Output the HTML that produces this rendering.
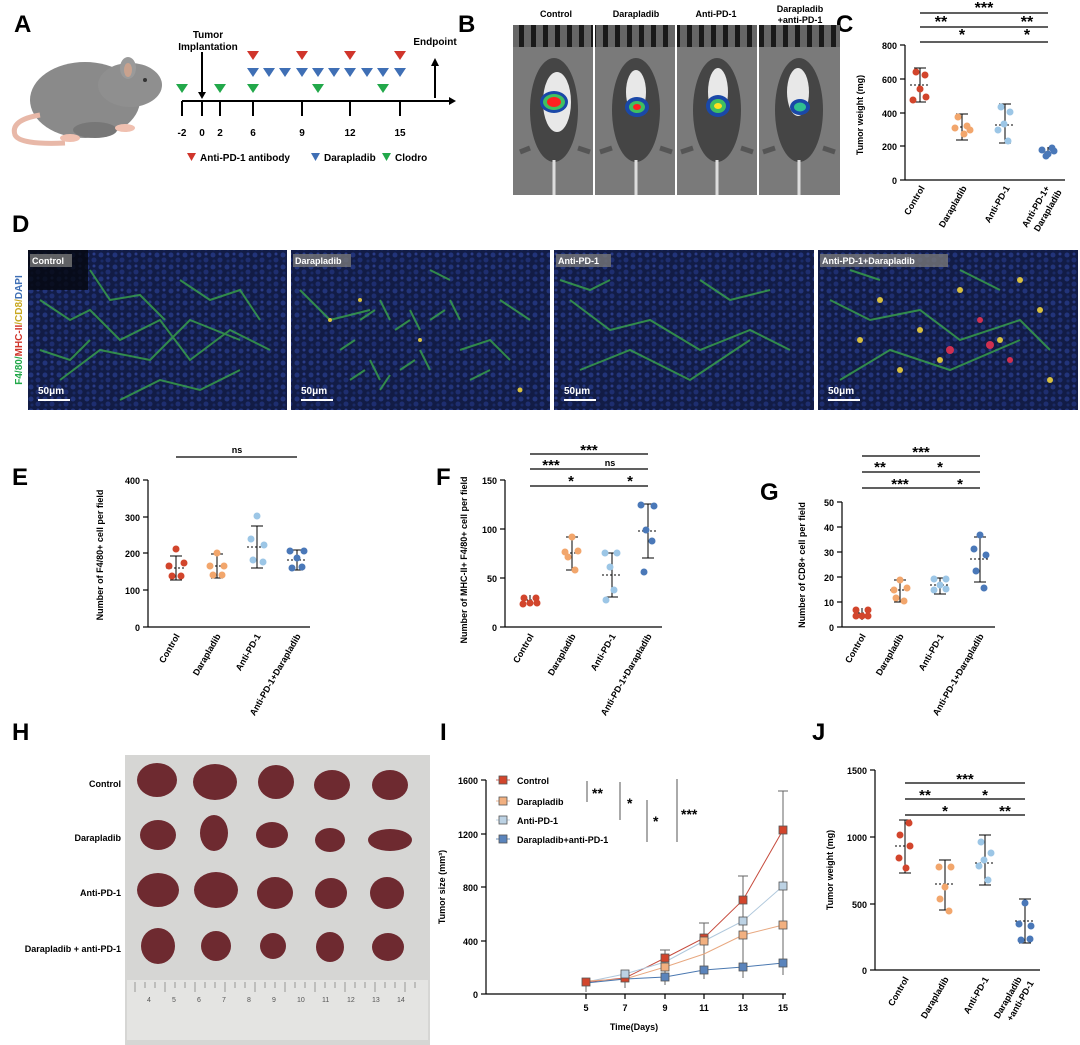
<!DOCTYPE html>
<html><head><meta charset="utf-8"><style>
body{margin:0;background:#fff;}
svg{display:block;font-family:"Liberation Sans",Arial,sans-serif;}
.L{font-size:24px;font-weight:bold;}
.t{font-size:10px;font-weight:bold;}
.s{font-size:9px;font-weight:bold;}
</style></head><body>
<svg width="1080" height="1045" viewBox="0 0 1080 1045" xmlns="http://www.w3.org/2000/svg">
<defs>
<pattern id="nuc" width="14" height="12" patternUnits="userSpaceOnUse">
<rect width="14" height="12" fill="#121c46"/>
<circle cx="3" cy="3" r="2.5" fill="#22347a"/><circle cx="10" cy="8" r="2.5" fill="#1e2e70"/><circle cx="10" cy="2" r="1.5" fill="#2a3c88"/><circle cx="4" cy="9" r="1.5" fill="#1a2a66"/>
</pattern>
<pattern id="tooth" width="12" height="22" patternUnits="userSpaceOnUse">
<rect width="12" height="22" fill="#666"/><rect x="3" width="5" height="22" fill="#1a1a1a"/>
</pattern>
</defs>
<!-- Panel labels -->
<text class="L" x="14" y="32">A</text>
<text class="L" x="458" y="32">B</text>
<text class="L" x="836" y="32">C</text>
<text class="L" x="12" y="232">D</text>
<text class="L" x="12" y="485">E</text>
<text class="L" x="436" y="485">F</text>
<text class="L" x="760" y="500">G</text>
<text class="L" x="12" y="740">H</text>
<text class="L" x="440" y="740">I</text>
<text class="L" x="812" y="740">J</text>

<!-- A: mouse -->
<g>
<ellipse cx="85" cy="100" rx="55" ry="38" fill="#8a8a8a"/>
<ellipse cx="130" cy="85" rx="32" ry="22" fill="#8f8f8f"/>
<ellipse cx="128" cy="68" rx="8" ry="11" fill="#9a9a9a"/>
<ellipse cx="128" cy="70" rx="4" ry="7" fill="#c9a28e"/>
<circle cx="145" cy="80" r="2" fill="#333"/>
<ellipse cx="95" cy="130" rx="22" ry="8" fill="#777"/>
<path d="M40 115 Q10 120 15 135 Q20 145 65 143" stroke="#e8b8a8" stroke-width="5" fill="none"/>
<ellipse cx="125" cy="128" rx="10" ry="4" fill="#f0c0b0"/>
<ellipse cx="70" cy="138" rx="10" ry="4" fill="#f0c0b0"/>
</g>
<!-- A: timeline -->
<line x1="182" y1="101" x2="453" y2="101" stroke="#000" stroke-width="2"/>
<path d="M449 97 L456 101 L449 105 Z" fill="#000"/>
<g stroke="#000" stroke-width="2">
<line x1="182" y1="101" x2="182" y2="116"/><line x1="202" y1="101" x2="202" y2="116"/><line x1="220" y1="101" x2="220" y2="116"/>
<line x1="253" y1="101" x2="253" y2="116"/><line x1="302" y1="101" x2="302" y2="116"/><line x1="350" y1="101" x2="350" y2="116"/><line x1="400" y1="101" x2="400" y2="116"/>
<line x1="202" y1="52" x2="202" y2="95"/><line x1="435" y1="98" x2="435" y2="64"/>
</g>
<path d="M198 92 L202 99 L206 92 Z M431 66 L435 58 L439 66 Z" fill="#000"/>
<g class="t" text-anchor="middle">
<text x="182" y="136">-2</text><text x="202" y="136">0</text><text x="220" y="136">2</text><text x="253" y="136">6</text><text x="302" y="136">9</text><text x="350" y="136">12</text><text x="400" y="136">15</text>
<text x="208" y="38">Tumor</text><text x="208" y="50">Implantation</text><text x="435" y="45">Endpoint</text>
</g>
<g fill="#d0352b">
<path d="M247 51h12l-6 9z M296 51h12l-6 9z M344 51h12l-6 9z M394 51h12l-6 9z"/>
</g>
<g fill="#3f6fb5">
<path d="M247 68h12l-6 9z M263 68h12l-6 9z M279 68h12l-6 9z M296 68h12l-6 9z M312 68h12l-6 9z M328 68h12l-6 9z M344 68h12l-6 9z M361 68h12l-6 9z M377 68h12l-6 9z M394 68h12l-6 9z"/>
</g>
<g fill="#22a84a">
<path d="M176 84h12l-6 9z M214 84h12l-6 9z M247 84h12l-6 9z M312 84h12l-6 9z M377 84h12l-6 9z"/>
</g>
<path d="M187 153h9l-4.5 8z" fill="#d0352b"/><text class="t" x="200" y="161">Anti-PD-1 antibody</text>
<path d="M311 153h9l-4.5 8z" fill="#3f6fb5"/><text class="t" x="324" y="161">Darapladib</text>
<path d="M382 153h9l-4.5 8z" fill="#22a84a"/><text class="t" x="395" y="161">Clodro</text>

<!-- B -->
<g class="s" text-anchor="middle">
<text x="556" y="17">Control</text><text x="636" y="17">Darapladib</text><text x="716" y="17">Anti-PD-1</text>
<text x="800" y="12">Darapladib</text><text x="800" y="23">+anti-PD-1</text>
</g>
<g>
<rect x="513" y="25" width="80" height="170" fill="#7a7a7a"/>
<rect x="595" y="25" width="80" height="170" fill="#7a7a7a"/>
<rect x="677" y="25" width="80" height="170" fill="#7a7a7a"/>
<rect x="759" y="25" width="81" height="170" fill="#7a7a7a"/>
<rect x="513" y="25" width="80" height="22" fill="url(#tooth)"/>
<rect x="595" y="25" width="80" height="22" fill="url(#tooth)"/>
<rect x="677" y="25" width="80" height="22" fill="url(#tooth)"/>
<rect x="759" y="25" width="81" height="22" fill="url(#tooth)"/>
</g>
<g fill="#454545">
<ellipse cx="554" cy="110" rx="24" ry="52"/><ellipse cx="636" cy="110" rx="24" ry="52"/><ellipse cx="717" cy="110" rx="24" ry="52"/><ellipse cx="799" cy="110" rx="24" ry="52"/>
</g>
<g stroke="#555" stroke-width="5"><line x1="530" y1="148" x2="520" y2="152"/><line x1="578" y1="148" x2="590" y2="152"/><line x1="612" y1="148" x2="600" y2="152"/><line x1="660" y1="148" x2="672" y2="152"/><line x1="693" y1="148" x2="681" y2="152"/><line x1="741" y1="148" x2="753" y2="152"/><line x1="775" y1="148" x2="763" y2="152"/><line x1="823" y1="148" x2="835" y2="152"/></g>
<g fill="#e8e8e8"><ellipse cx="557" cy="102" rx="14" ry="30"/><ellipse cx="636" cy="92" rx="10" ry="22"/><ellipse cx="718" cy="92" rx="10" ry="24"/><ellipse cx="798" cy="92" rx="11" ry="24"/></g>
<g stroke="#ddd" stroke-width="3"><line x1="554" y1="160" x2="554" y2="195"/><line x1="636" y1="160" x2="636" y2="195"/><line x1="717" y1="160" x2="717" y2="195"/><line x1="799" y1="160" x2="799" y2="195"/></g>
<g>
<ellipse cx="554" cy="102" rx="14" ry="11" fill="#1a48a8"/><ellipse cx="554" cy="102" rx="11" ry="8" fill="#40c060"/><ellipse cx="554" cy="102" rx="7" ry="5" fill="#ff2020"/>
<ellipse cx="637" cy="107" rx="12" ry="10" fill="#1a48a8"/><ellipse cx="637" cy="107" rx="8" ry="6" fill="#40c060"/><ellipse cx="637" cy="107" rx="4" ry="3" fill="#ff2020"/>
<ellipse cx="718" cy="106" rx="12" ry="11" fill="#1a48a8"/><ellipse cx="718" cy="106" rx="8" ry="7" fill="#40c060"/><ellipse cx="718" cy="106" rx="4" ry="3" fill="#ffe020"/>
<ellipse cx="800" cy="107" rx="10" ry="8" fill="#1a48a8"/><ellipse cx="800" cy="107" rx="6" ry="4.5" fill="#30c090"/>
</g>

<!-- C -->
<g stroke="#000" stroke-width="1.2" fill="none">
<line x1="905" y1="45" x2="905" y2="180"/><line x1="905" y1="180" x2="1065" y2="180"/>
<line x1="900" y1="45" x2="905" y2="45"/><line x1="900" y1="79" x2="905" y2="79"/><line x1="900" y1="113" x2="905" y2="113"/><line x1="900" y1="146" x2="905" y2="146"/><line x1="900" y1="180" x2="905" y2="180"/>
<line x1="920" y1="13" x2="1048" y2="13"/><line x1="920" y1="27" x2="1005" y2="27"/><line x1="1005" y1="27" x2="1048" y2="27"/><line x1="920" y1="42" x2="1005" y2="42"/><line x1="1005" y1="42" x2="1048" y2="42"/>
</g>
<g class="s" text-anchor="end"><text x="897" y="49">800</text><text x="897" y="83">600</text><text x="897" y="117">400</text><text x="897" y="150">200</text><text x="897" y="184">0</text></g>
<text class="s" transform="translate(863,115) rotate(-90)" text-anchor="middle">Tumor weight (mg)</text>
<g class="L" style="font-size:16px" text-anchor="middle"><text x="984" y="13">***</text><text x="941" y="27">**</text><text x="1027" y="27">**</text><text x="962" y="40">*</text><text x="1027" y="40">*</text></g>
<g class="s" text-anchor="end">
<text transform="translate(925,188) rotate(-60)">Control</text><text transform="translate(967,188) rotate(-60)">Darapladib</text><text transform="translate(1010,188) rotate(-60)">Anti-PD-1</text>
<text transform="translate(1050,188) rotate(-60)">Anti-PD-1+</text><text transform="translate(1062,192) rotate(-60)">Darapladib</text>
</g>
<g stroke="#000" stroke-width="1">
<line x1="920" y1="68" x2="920" y2="102"/><line x1="914" y1="68" x2="926" y2="68"/><line x1="914" y1="102" x2="926" y2="102"/><line x1="910" y1="85" x2="930" y2="85" stroke-dasharray="2,2"/>
<line x1="962" y1="114" x2="962" y2="140"/><line x1="956" y1="114" x2="968" y2="114"/><line x1="956" y1="140" x2="968" y2="140"/><line x1="952" y1="127" x2="972" y2="127" stroke-dasharray="2,2"/>
<line x1="1005" y1="104" x2="1005" y2="143"/><line x1="999" y1="104" x2="1011" y2="104"/><line x1="999" y1="143" x2="1011" y2="143"/><line x1="995" y1="125" x2="1015" y2="125" stroke-dasharray="2,2"/>
<line x1="1048" y1="147" x2="1048" y2="155"/><line x1="1040" y1="152" x2="1056" y2="152" stroke-dasharray="2,2"/>
</g>
<g fill="#d2452c"><circle cx="916" cy="72" r="3.5"/><circle cx="925" cy="75" r="3.5"/><circle cx="920" cy="89" r="3.5"/><circle cx="913" cy="100" r="3.5"/><circle cx="926" cy="97" r="3.5"/></g>
<g fill="#f2a66c"><circle cx="958" cy="117" r="3.5"/><circle cx="967" cy="126" r="3.5"/><circle cx="955" cy="128" r="3.5"/><circle cx="964" cy="134" r="3.5"/><circle cx="970" cy="130" r="3.5"/></g>
<g fill="#9cc6e6"><circle cx="1001" cy="107" r="3.5"/><circle cx="1010" cy="112" r="3.5"/><circle cx="1004" cy="124" r="3.5"/><circle cx="998" cy="130" r="3.5"/><circle cx="1008" cy="141" r="3.5"/></g>
<g fill="#4a78b8"><circle cx="1042" cy="150" r="3.5"/><circle cx="1048" cy="154" r="3.5"/><circle cx="1054" cy="151" r="3.5"/><circle cx="1046" cy="156" r="3.5"/><circle cx="1052" cy="148" r="3.5"/></g>

<!-- D -->
<g>
<rect x="28" y="250" width="259" height="160" fill="url(#nuc)"/>
<rect x="291" y="250" width="259" height="160" fill="url(#nuc)"/>
<rect x="554" y="250" width="260" height="160" fill="url(#nuc)"/>
<rect x="818" y="250" width="260" height="160" fill="url(#nuc)"/>
<rect x="28" y="250" width="60" height="40" fill="#05070f" opacity="0.8"/>
<g stroke="#3cae4a" stroke-width="2" fill="none" opacity="0.75">
<path d="M40 300 l30 20 l20 -10 l30 30 l40 -20 l30 40 l40 -30 l40 20 M60 380 l40 -30 l50 10 l40 -40 l50 20 M90 270 l20 30 l30 -5 l25 25 M180 280 l30 20 l30 -10 l20 30 M40 350 l30 10 l20 -20 M120 400 l40 -20 l40 10 l40 -20"/>
<path d="M360 320 l15 -10 M380 300 l10 20 M395 330 l15 -10 M410 310 l10 20 M340 350 l15 -10 M370 360 l10 20 M400 370 l15 -10 M420 350 l10 20 M350 380 l15 -10 M380 390 l10 -15 M430 320 l15 -10 M450 300 l10 20 M300 290 l30 30 l40 -10 M460 350 l30 -10 l20 20 M500 300 l30 20 M430 270 l20 10 M470 380 l20 -10"/>
<path d="M570 300 l40 30 l40 -10 l50 30 l50 -20 l40 20 M580 370 l50 -20 l60 30 l60 -40 M560 280 l30 10 l20 -10 M700 280 l30 20 l40 -10"/>
<path d="M830 300 l40 20 l50 -10 l40 30 l60 -20 l30 30 M840 380 l50 -30 l60 20 l70 -30 M850 270 l30 10 M960 270 l40 20"/>
</g>
<g fill="#d8c040"><circle cx="880" cy="300" r="3"/><circle cx="920" cy="330" r="3"/><circle cx="960" cy="290" r="3"/><circle cx="1000" cy="340" r="3"/><circle cx="1040" cy="310" r="3"/><circle cx="900" cy="370" r="3"/><circle cx="1050" cy="380" r="3"/><circle cx="860" cy="340" r="3"/><circle cx="940" cy="360" r="3"/><circle cx="1020" cy="280" r="3"/><circle cx="360" cy="300" r="2"/><circle cx="420" cy="340" r="2"/><circle cx="330" cy="320" r="2"/><circle cx="520" cy="390" r="2.5"/></g>
<g fill="#d03050"><circle cx="950" cy="350" r="4"/><circle cx="980" cy="320" r="3"/><circle cx="1010" cy="360" r="3"/><circle cx="990" cy="345" r="4"/></g>
<rect x="30" y="254" width="42" height="13" fill="#777" opacity="0.8"/><text class="s" x="32" y="264" fill="#fff">Control</text>
<rect x="293" y="254" width="58" height="13" fill="#777" opacity="0.8"/><text class="s" x="295" y="264" fill="#fff">Darapladib</text>
<rect x="556" y="254" width="55" height="13" fill="#777" opacity="0.8"/><text class="s" x="558" y="264" fill="#fff">Anti-PD-1</text>
<rect x="820" y="254" width="128" height="13" fill="#777" opacity="0.8"/><text class="s" x="822" y="264" fill="#fff">Anti-PD-1+Darapladib</text>
<g fill="#fff" class="t"><text x="38" y="394">50μm</text><text x="301" y="394">50μm</text><text x="564" y="394">50μm</text><text x="828" y="394">50μm</text></g>
<g stroke="#fff" stroke-width="2"><line x1="38" y1="400" x2="70" y2="400"/><line x1="301" y1="400" x2="333" y2="400"/><line x1="564" y1="400" x2="596" y2="400"/><line x1="828" y1="400" x2="860" y2="400"/></g>
<text class="t" transform="translate(22,330) rotate(-90)" text-anchor="middle"><tspan fill="#22a84a">F4/80/</tspan><tspan fill="#d0352b">MHC-II</tspan><tspan fill="#c8a820">/CD8/</tspan><tspan fill="#3f6fb5">DAPI</tspan></text>
</g>

<!-- E -->
<g stroke="#000" stroke-width="1.2" fill="none">
<line x1="148" y1="480" x2="148" y2="627"/><line x1="148" y1="627" x2="310" y2="627"/>
<line x1="143" y1="480" x2="148" y2="480"/><line x1="143" y1="517" x2="148" y2="517"/><line x1="143" y1="553" x2="148" y2="553"/><line x1="143" y1="590" x2="148" y2="590"/><line x1="143" y1="627" x2="148" y2="627"/>
<line x1="176" y1="457" x2="297" y2="457"/>
</g>
<text class="s" x="237" y="453" text-anchor="middle">ns</text>
<g class="s" text-anchor="end"><text x="140" y="484">400</text><text x="140" y="521">300</text><text x="140" y="557">200</text><text x="140" y="594">100</text><text x="140" y="631">0</text></g>
<text class="s" transform="translate(103,555) rotate(-90)" text-anchor="middle">Number of F4/80+ cell per field</text>
<g class="s" text-anchor="end"><text transform="translate(180,636) rotate(-60)">Control</text><text transform="translate(221,636) rotate(-60)">Darapladib</text><text transform="translate(261,636) rotate(-60)">Anti-PD-1</text><text transform="translate(301,636) rotate(-60)">Anti-PD-1+Darapladib</text></g>
<g stroke="#000" stroke-width="1">
<line x1="176" y1="556" x2="176" y2="580"/><line x1="170" y1="556" x2="182" y2="556"/><line x1="170" y1="580" x2="182" y2="580"/><line x1="166" y1="568" x2="186" y2="568" stroke-dasharray="2,2"/>
<line x1="217" y1="554" x2="217" y2="578"/><line x1="211" y1="554" x2="223" y2="554"/><line x1="211" y1="578" x2="223" y2="578"/><line x1="207" y1="566" x2="227" y2="566" stroke-dasharray="2,2"/>
<line x1="257" y1="526" x2="257" y2="568"/><line x1="251" y1="526" x2="263" y2="526"/><line x1="251" y1="568" x2="263" y2="568"/><line x1="247" y1="547" x2="267" y2="547" stroke-dasharray="2,2"/>
<line x1="297" y1="550" x2="297" y2="570"/><line x1="291" y1="550" x2="303" y2="550"/><line x1="291" y1="570" x2="303" y2="570"/><line x1="287" y1="560" x2="307" y2="560" stroke-dasharray="2,2"/>
</g>
<g fill="#d2452c"><circle cx="176" cy="549" r="3.5"/><circle cx="169" cy="566" r="3.5"/><circle cx="184" cy="563" r="3.5"/><circle cx="172" cy="576" r="3.5"/><circle cx="181" cy="576" r="3.5"/></g>
<g fill="#f2a66c"><circle cx="217" cy="553" r="3.5"/><circle cx="210" cy="566" r="3.5"/><circle cx="224" cy="566" r="3.5"/><circle cx="213" cy="575" r="3.5"/><circle cx="222" cy="575" r="3.5"/></g>
<g fill="#9cc6e6"><circle cx="257" cy="516" r="3.5"/><circle cx="251" cy="539" r="3.5"/><circle cx="264" cy="545" r="3.5"/><circle cx="253" cy="560" r="3.5"/><circle cx="263" cy="562" r="3.5"/></g>
<g fill="#4a78b8"><circle cx="290" cy="551" r="3.5"/><circle cx="304" cy="551" r="3.5"/><circle cx="297" cy="558" r="3.5"/><circle cx="292" cy="568" r="3.5"/><circle cx="302" cy="567" r="3.5"/></g>

<!-- F -->
<g stroke="#000" stroke-width="1.2" fill="none">
<line x1="505" y1="480" x2="505" y2="627"/><line x1="505" y1="627" x2="662" y2="627"/>
<line x1="500" y1="480" x2="505" y2="480"/><line x1="500" y1="529" x2="505" y2="529"/><line x1="500" y1="578" x2="505" y2="578"/><line x1="500" y1="627" x2="505" y2="627"/>
<line x1="530" y1="454" x2="648" y2="454"/><line x1="530" y1="469" x2="572" y2="469"/><line x1="572" y1="469" x2="648" y2="469"/><line x1="530" y1="486" x2="612" y2="486"/><line x1="612" y1="486" x2="648" y2="486"/>
</g>
<g class="L" style="font-size:15px" text-anchor="middle"><text x="589" y="455">***</text><text x="551" y="470">***</text><text x="571" y="486">*</text><text x="630" y="486">*</text></g>
<text class="s" x="610" y="466" text-anchor="middle">ns</text>
<g class="s" text-anchor="end"><text x="497" y="484">150</text><text x="497" y="533">100</text><text x="497" y="582">50</text><text x="497" y="631">0</text></g>
<text class="s" transform="translate(467,560) rotate(-90)" text-anchor="middle">Number of MHC-II+ F4/80+ cell per field</text>
<g class="s" text-anchor="end"><text transform="translate(534,636) rotate(-60)">Control</text><text transform="translate(576,636) rotate(-60)">Darapladib</text><text transform="translate(616,636) rotate(-60)">Anti-PD-1</text><text transform="translate(652,636) rotate(-60)">Anti-PD-1+Darapladib</text></g>
<g stroke="#000" stroke-width="1">
<line x1="530" y1="595" x2="530" y2="605"/><line x1="522" y1="600" x2="538" y2="600" stroke-dasharray="2,2"/>
<line x1="572" y1="537" x2="572" y2="570"/><line x1="566" y1="537" x2="578" y2="537"/><line x1="566" y1="570" x2="578" y2="570"/><line x1="562" y1="553" x2="582" y2="553" stroke-dasharray="2,2"/>
<line x1="612" y1="553" x2="612" y2="597"/><line x1="606" y1="553" x2="618" y2="553"/><line x1="606" y1="597" x2="618" y2="597"/><line x1="602" y1="575" x2="622" y2="575" stroke-dasharray="2,2"/>
<line x1="648" y1="504" x2="648" y2="558"/><line x1="642" y1="504" x2="654" y2="504"/><line x1="642" y1="558" x2="654" y2="558"/><line x1="638" y1="531" x2="658" y2="531" stroke-dasharray="2,2"/>
</g>
<g fill="#d2452c"><circle cx="524" cy="598" r="3.5"/><circle cx="536" cy="598" r="3.5"/><circle cx="530" cy="603" r="3.5"/><circle cx="523" cy="604" r="3.5"/><circle cx="537" cy="603" r="3.5"/></g>
<g fill="#f2a66c"><circle cx="572" cy="537" r="3.5"/><circle cx="565" cy="552" r="3.5"/><circle cx="578" cy="551" r="3.5"/><circle cx="568" cy="557" r="3.5"/><circle cx="575" cy="570" r="3.5"/></g>
<g fill="#9cc6e6"><circle cx="605" cy="553" r="3.5"/><circle cx="617" cy="553" r="3.5"/><circle cx="610" cy="567" r="3.5"/><circle cx="614" cy="590" r="3.5"/><circle cx="606" cy="600" r="3.5"/></g>
<g fill="#4a78b8"><circle cx="641" cy="505" r="3.5"/><circle cx="654" cy="506" r="3.5"/><circle cx="646" cy="530" r="3.5"/><circle cx="652" cy="541" r="3.5"/><circle cx="644" cy="572" r="3.5"/></g>

<!-- G -->
<g stroke="#000" stroke-width="1.2" fill="none">
<line x1="842" y1="502" x2="842" y2="627"/><line x1="842" y1="627" x2="995" y2="627"/>
<line x1="837" y1="502" x2="842" y2="502"/><line x1="837" y1="527" x2="842" y2="527"/><line x1="837" y1="552" x2="842" y2="552"/><line x1="837" y1="577" x2="842" y2="577"/><line x1="837" y1="602" x2="842" y2="602"/><line x1="837" y1="627" x2="842" y2="627"/>
<line x1="862" y1="456" x2="980" y2="456"/><line x1="862" y1="472" x2="900" y2="472"/><line x1="900" y1="472" x2="980" y2="472"/><line x1="862" y1="488" x2="940" y2="488"/><line x1="940" y1="488" x2="980" y2="488"/>
</g>
<g class="L" style="font-size:15px" text-anchor="middle"><text x="921" y="457">***</text><text x="880" y="472">**</text><text x="940" y="472">*</text><text x="900" y="489">***</text><text x="960" y="489">*</text></g>
<g class="s" text-anchor="end"><text x="834" y="506">50</text><text x="834" y="531">40</text><text x="834" y="556">30</text><text x="834" y="581">20</text><text x="834" y="606">10</text><text x="834" y="631">0</text></g>
<text class="s" transform="translate(805,565) rotate(-90)" text-anchor="middle">Number of CD8+ cell per field</text>
<g class="s" text-anchor="end"><text transform="translate(866,636) rotate(-60)">Control</text><text transform="translate(904,636) rotate(-60)">Darapladib</text><text transform="translate(944,636) rotate(-60)">Anti-PD-1</text><text transform="translate(984,636) rotate(-60)">Anti-PD-1+Darapladib</text></g>
<g stroke="#000" stroke-width="1">
<line x1="862" y1="608" x2="862" y2="620"/><line x1="854" y1="613" x2="870" y2="613" stroke-dasharray="2,2"/>
<line x1="900" y1="580" x2="900" y2="602"/><line x1="894" y1="580" x2="906" y2="580"/><line x1="894" y1="602" x2="906" y2="602"/><line x1="890" y1="590" x2="910" y2="590" stroke-dasharray="2,2"/>
<line x1="940" y1="578" x2="940" y2="594"/><line x1="934" y1="578" x2="946" y2="578"/><line x1="934" y1="594" x2="946" y2="594"/><line x1="930" y1="585" x2="950" y2="585" stroke-dasharray="2,2"/>
<line x1="980" y1="537" x2="980" y2="582"/><line x1="974" y1="537" x2="986" y2="537"/><line x1="974" y1="582" x2="986" y2="582"/><line x1="970" y1="559" x2="990" y2="559" stroke-dasharray="2,2"/>
</g>
<g fill="#d2452c"><circle cx="856" cy="610" r="3.5"/><circle cx="868" cy="610" r="3.5"/><circle cx="862" cy="616" r="3.5"/><circle cx="856" cy="616" r="3.5"/><circle cx="868" cy="616" r="3.5"/></g>
<g fill="#f2a66c"><circle cx="900" cy="580" r="3.5"/><circle cx="894" cy="590" r="3.5"/><circle cx="907" cy="588" r="3.5"/><circle cx="896" cy="598" r="3.5"/><circle cx="904" cy="601" r="3.5"/></g>
<g fill="#9cc6e6"><circle cx="934" cy="579" r="3.5"/><circle cx="946" cy="579" r="3.5"/><circle cx="940" cy="585" r="3.5"/><circle cx="934" cy="590" r="3.5"/><circle cx="946" cy="589" r="3.5"/></g>
<g fill="#4a78b8"><circle cx="980" cy="535" r="3.5"/><circle cx="974" cy="549" r="3.5"/><circle cx="986" cy="555" r="3.5"/><circle cx="976" cy="571" r="3.5"/><circle cx="984" cy="588" r="3.5"/></g>

<!-- H -->
<rect x="125" y="755" width="305" height="290" fill="#d6d6d4"/>
<rect x="127" y="980" width="301" height="60" fill="#e4e4e2"/>
<g stroke="#777" stroke-width="0.7">
<path d="M135 982v10M145 982v6M155 982v6M165 982v10M175 982v6M185 982v6M195 982v10M205 982v6M215 982v6M225 982v10M235 982v6M245 982v6M255 982v10M265 982v6M275 982v6M285 982v10M295 982v6M305 982v6M315 982v10M325 982v6M335 982v6M345 982v10M355 982v6M365 982v6M375 982v10M385 982v6M395 982v6M405 982v10M415 982v6"/>
</g>
<g font-size="7" fill="#555"><text x="147" y="1002">4</text><text x="172" y="1002">5</text><text x="197" y="1002">6</text><text x="222" y="1002">7</text><text x="247" y="1002">8</text><text x="272" y="1002">9</text><text x="297" y="1002">10</text><text x="322" y="1002">11</text><text x="347" y="1002">12</text><text x="372" y="1002">13</text><text x="397" y="1002">14</text></g>
<g fill="#6e2a30">
<ellipse cx="157" cy="780" rx="20" ry="17"/><ellipse cx="215" cy="782" rx="22" ry="18"/><ellipse cx="276" cy="782" rx="18" ry="17"/><ellipse cx="332" cy="785" rx="18" ry="15"/><ellipse cx="390" cy="785" rx="18" ry="15"/>
<ellipse cx="158" cy="835" rx="18" ry="15"/><ellipse cx="214" cy="833" rx="14" ry="18"/><ellipse cx="272" cy="835" rx="16" ry="13"/><ellipse cx="330" cy="840" rx="15" ry="12"/><ellipse cx="390" cy="840" rx="22" ry="11"/>
<ellipse cx="158" cy="890" rx="21" ry="17"/><ellipse cx="216" cy="890" rx="22" ry="18"/><ellipse cx="275" cy="893" rx="18" ry="16"/><ellipse cx="331" cy="893" rx="16" ry="15"/><ellipse cx="387" cy="893" rx="17" ry="16"/>
<ellipse cx="158" cy="946" rx="17" ry="18"/><ellipse cx="216" cy="946" rx="15" ry="15"/><ellipse cx="273" cy="946" rx="13" ry="13"/><ellipse cx="330" cy="947" rx="14" ry="15"/><ellipse cx="388" cy="947" rx="16" ry="14"/>
</g>
<g class="s" text-anchor="end"><text x="121" y="787">Control</text><text x="121" y="841">Darapladib</text><text x="121" y="896">Anti-PD-1</text><text x="121" y="952">Darapladib + anti-PD-1</text></g>

<!-- I -->
<g stroke="#000" stroke-width="1.2" fill="none">
<line x1="486" y1="780" x2="486" y2="994"/><line x1="486" y1="994" x2="786" y2="994"/>
<line x1="481" y1="780" x2="486" y2="780"/><line x1="481" y1="834" x2="486" y2="834"/><line x1="481" y1="887" x2="486" y2="887"/><line x1="481" y1="941" x2="486" y2="941"/><line x1="481" y1="994" x2="486" y2="994"/>
<line x1="586" y1="994" x2="586" y2="999"/><line x1="625" y1="994" x2="625" y2="999"/><line x1="665" y1="994" x2="665" y2="999"/><line x1="704" y1="994" x2="704" y2="999"/><line x1="743" y1="994" x2="743" y2="999"/><line x1="783" y1="994" x2="783" y2="999"/>
</g>
<g stroke="#555" stroke-width="1"><line x1="587" y1="781" x2="587" y2="802"/><line x1="620" y1="782" x2="620" y2="820"/><line x1="647" y1="800" x2="647" y2="842"/><line x1="677" y1="779" x2="677" y2="842"/></g>
<g class="L" style="font-size:14px"><text x="592" y="798">**</text><text x="627" y="808">*</text><text x="653" y="826">*</text><text x="681" y="819">***</text></g>
<g class="s" text-anchor="end"><text x="478" y="784">1600</text><text x="478" y="838">1200</text><text x="478" y="891">800</text><text x="478" y="945">400</text><text x="478" y="998">0</text></g>
<g class="s" text-anchor="middle"><text x="586" y="1011">5</text><text x="625" y="1011">7</text><text x="665" y="1011">9</text><text x="704" y="1011">11</text><text x="743" y="1011">13</text><text x="783" y="1011">15</text><text x="634" y="1030">Time(Days)</text></g>
<text class="s" transform="translate(445,887) rotate(-90)" text-anchor="middle">Tumor size (mm³)</text>
<g stroke="#666" stroke-width="1">
<line x1="783" y1="791" x2="783" y2="975"/><line x1="743" y1="876" x2="743" y2="978"/><line x1="704" y1="923" x2="704" y2="979"/><line x1="665" y1="950" x2="665" y2="985"/><line x1="625" y1="970" x2="625" y2="988"/><line x1="586" y1="978" x2="586" y2="992"/>
<line x1="778" y1="791" x2="788" y2="791"/><line x1="738" y1="876" x2="748" y2="876"/><line x1="699" y1="923" x2="709" y2="923"/><line x1="660" y1="950" x2="670" y2="950"/>
</g>
<polyline points="586,982 625,978 665,958 704,938 743,900 783,830" fill="none" stroke="#c64a3c" stroke-width="1"/>
<polyline points="586,982 625,974 665,962 704,941 743,921 783,886" fill="none" stroke="#b0c8dc" stroke-width="1"/>
<polyline points="586,981 625,979 665,967 704,954 743,935 783,925" fill="none" stroke="#e8a880" stroke-width="1"/>
<polyline points="586,983 625,979 665,977 704,970 743,967 783,963" fill="none" stroke="#4a78b0" stroke-width="1"/>
<g stroke="#555" stroke-width="0.8">
<g fill="#d2452c"><rect x="582" y="978" width="8" height="8"/><rect x="621" y="974" width="8" height="8"/><rect x="661" y="954" width="8" height="8"/><rect x="700" y="934" width="8" height="8"/><rect x="739" y="896" width="8" height="8"/><rect x="779" y="826" width="8" height="8"/></g>
<g fill="#bcd2e4"><rect x="621" y="970" width="8" height="8"/><rect x="739" y="917" width="8" height="8"/><rect x="779" y="882" width="8" height="8"/></g>
<g fill="#f2b080"><rect x="661" y="963" width="8" height="8"/><rect x="700" y="937" width="8" height="8"/><rect x="739" y="931" width="8" height="8"/><rect x="779" y="921" width="8" height="8"/></g>
<g fill="#5a84bc"><rect x="661" y="973" width="8" height="8"/><rect x="700" y="966" width="8" height="8"/><rect x="739" y="963" width="8" height="8"/><rect x="779" y="959" width="8" height="8"/></g>
</g>
<g stroke-width="0.8" stroke="#555">
<line x1="496" y1="780" x2="510" y2="780" stroke="#c64a3c"/><rect x="499" y="776" width="8" height="8" fill="#d2452c"/>
<line x1="496" y1="801" x2="510" y2="801" stroke="#e8a880"/><rect x="499" y="797" width="8" height="8" fill="#f2b080"/>
<line x1="496" y1="820" x2="510" y2="820" stroke="#b0c8dc"/><rect x="499" y="816" width="8" height="8" fill="#bcd2e4"/>
<line x1="496" y1="839" x2="510" y2="839" stroke="#4a78b0"/><rect x="499" y="835" width="8" height="8" fill="#5a84bc"/>
</g>
<g class="s"><text x="517" y="784">Control</text><text x="517" y="805">Darapladib</text><text x="517" y="824">Anti-PD-1</text><text x="517" y="843">Darapladib+anti-PD-1</text></g>

<!-- J -->
<g stroke="#000" stroke-width="1.2" fill="none">
<line x1="875" y1="770" x2="875" y2="970"/><line x1="875" y1="970" x2="1040" y2="970"/>
<line x1="870" y1="770" x2="875" y2="770"/><line x1="870" y1="837" x2="875" y2="837"/><line x1="870" y1="904" x2="875" y2="904"/><line x1="870" y1="970" x2="875" y2="970"/>
<line x1="905" y1="783" x2="1025" y2="783"/><line x1="905" y1="799" x2="945" y2="799"/><line x1="945" y1="799" x2="1025" y2="799"/><line x1="905" y1="815" x2="985" y2="815"/><line x1="985" y1="815" x2="1025" y2="815"/>
</g>
<g class="L" style="font-size:15px" text-anchor="middle"><text x="965" y="784">***</text><text x="925" y="800">**</text><text x="985" y="800">*</text><text x="945" y="816">*</text><text x="1005" y="816">**</text></g>
<g class="s" text-anchor="end"><text x="867" y="774">1500</text><text x="867" y="841">1000</text><text x="867" y="908">500</text><text x="867" y="974">0</text></g>
<text class="s" transform="translate(833,870) rotate(-90)" text-anchor="middle">Tumor weight (mg)</text>
<g class="s" text-anchor="end"><text transform="translate(909,979) rotate(-60)">Control</text><text transform="translate(949,979) rotate(-60)">Darapladib</text><text transform="translate(989,979) rotate(-60)">Anti-PD-1</text><text transform="translate(1022,979) rotate(-60)">Darapladib</text><text transform="translate(1034,983) rotate(-60)">+anti-PD-1</text></g>
<g stroke="#000" stroke-width="1">
<line x1="905" y1="820" x2="905" y2="873"/><line x1="899" y1="820" x2="911" y2="820"/><line x1="899" y1="873" x2="911" y2="873"/><line x1="895" y1="846" x2="915" y2="846" stroke-dasharray="2,2"/>
<line x1="945" y1="860" x2="945" y2="910"/><line x1="939" y1="860" x2="951" y2="860"/><line x1="939" y1="910" x2="951" y2="910"/><line x1="935" y1="884" x2="955" y2="884" stroke-dasharray="2,2"/>
<line x1="985" y1="835" x2="985" y2="885"/><line x1="979" y1="835" x2="991" y2="835"/><line x1="979" y1="885" x2="991" y2="885"/><line x1="975" y1="863" x2="995" y2="863" stroke-dasharray="2,2"/>
<line x1="1025" y1="899" x2="1025" y2="943"/><line x1="1019" y1="899" x2="1031" y2="899"/><line x1="1019" y1="943" x2="1031" y2="943"/><line x1="1015" y1="921" x2="1035" y2="921" stroke-dasharray="2,2"/>
</g>
<g fill="#d2452c"><circle cx="909" cy="823" r="3.5"/><circle cx="900" cy="835" r="3.5"/><circle cx="910" cy="846" r="3.5"/><circle cx="899" cy="858" r="3.5"/><circle cx="906" cy="868" r="3.5"/></g>
<g fill="#f2a66c"><circle cx="939" cy="867" r="3.5"/><circle cx="951" cy="867" r="3.5"/><circle cx="945" cy="887" r="3.5"/><circle cx="940" cy="899" r="3.5"/><circle cx="949" cy="911" r="3.5"/></g>
<g fill="#9cc6e6"><circle cx="981" cy="842" r="3.5"/><circle cx="991" cy="853" r="3.5"/><circle cx="979" cy="866" r="3.5"/><circle cx="988" cy="880" r="3.5"/><circle cx="984" cy="860" r="3.5"/></g>
<g fill="#4a78b8"><circle cx="1025" cy="903" r="3.5"/><circle cx="1019" cy="924" r="3.5"/><circle cx="1031" cy="926" r="3.5"/><circle cx="1021" cy="940" r="3.5"/><circle cx="1030" cy="939" r="3.5"/></g>
</svg>
</body></html>
